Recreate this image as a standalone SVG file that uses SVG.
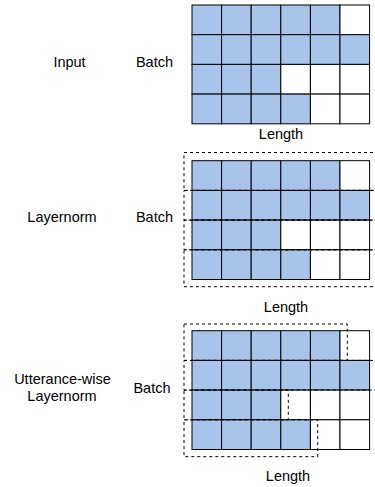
<svg xmlns="http://www.w3.org/2000/svg" width="375" height="487" viewBox="0 0 375 487">
<style>
text{font-family:"Liberation Sans",Arial,Helvetica,sans-serif;font-size:14.5px;fill:#000;text-anchor:middle}
.b{fill:#A9C4EB;stroke:#000;stroke-width:1}
.w{fill:#fff;stroke:#000;stroke-width:1}
.d{fill:none;stroke:#000;stroke-width:1;stroke-dasharray:3 3}
</style>
<defs>
<g id="grid">
<rect class="b" x="0" y="0" width="29.6" height="29.7"/>
<rect class="b" x="29.6" y="0" width="29.6" height="29.7"/>
<rect class="b" x="59.2" y="0" width="29.6" height="29.7"/>
<rect class="b" x="88.8" y="0" width="29.6" height="29.7"/>
<rect class="b" x="118.4" y="0" width="29.6" height="29.7"/>
<rect class="w" x="148" y="0" width="29.6" height="29.7"/>
<rect class="b" x="0" y="29.7" width="29.6" height="29.7"/>
<rect class="b" x="29.6" y="29.7" width="29.6" height="29.7"/>
<rect class="b" x="59.2" y="29.7" width="29.6" height="29.7"/>
<rect class="b" x="88.8" y="29.7" width="29.6" height="29.7"/>
<rect class="b" x="118.4" y="29.7" width="29.6" height="29.7"/>
<rect class="b" x="148" y="29.7" width="29.6" height="29.7"/>
<rect class="b" x="0" y="59.4" width="29.6" height="29.7"/>
<rect class="b" x="29.6" y="59.4" width="29.6" height="29.7"/>
<rect class="b" x="59.2" y="59.4" width="29.6" height="29.7"/>
<rect class="w" x="88.8" y="59.4" width="29.6" height="29.7"/>
<rect class="w" x="118.4" y="59.4" width="29.6" height="29.7"/>
<rect class="w" x="148" y="59.4" width="29.6" height="29.7"/>
<rect class="b" x="0" y="89.1" width="29.6" height="29.7"/>
<rect class="b" x="29.6" y="89.1" width="29.6" height="29.7"/>
<rect class="b" x="59.2" y="89.1" width="29.6" height="29.7"/>
<rect class="b" x="88.8" y="89.1" width="29.6" height="29.7"/>
<rect class="w" x="118.4" y="89.1" width="29.6" height="29.7"/>
<rect class="w" x="148" y="89.1" width="29.6" height="29.7"/>
</g>
</defs>

<g id="input">
<text x="69.5" y="67">Input</text>
<text x="154.5" y="67">Batch</text>
<use href="#grid" x="192" y="5"/>
<text x="281" y="139">Length</text>
</g>

<g id="layernorm">
<text x="62" y="222">Layernorm</text>
<text x="154.5" y="222">Batch</text>
<use href="#grid" x="192" y="160.7"/>
<text x="286" y="311.5">Length</text>
</g>

<g id="utterance-layernorm">
<text x="62.5" y="384">Utterance-wise</text>
<text x="62" y="400.5">Layernorm</text>
<text x="152" y="392.5">Batch</text>
<use href="#grid" x="192" y="330.7"/>
<text x="288" y="481">Length</text>
</g>

<g id="connectors">
<rect class="d" x="184" y="152.5" width="220" height="37.9"/>
<rect class="d" x="184" y="190.4" width="220" height="29.7"/>
<rect class="d" x="184" y="220.1" width="220" height="29.7"/>
<rect class="d" x="184" y="249.8" width="220" height="36.9"/>
<rect class="d" x="184" y="324" width="163.3" height="36.4"/>
<rect class="d" x="184" y="360.4" width="220" height="29.7"/>
<rect class="d" x="184" y="390.1" width="104.3" height="29.7"/>
<rect class="d" x="184" y="419.8" width="133.7" height="36.9"/>
</g>
</svg>
